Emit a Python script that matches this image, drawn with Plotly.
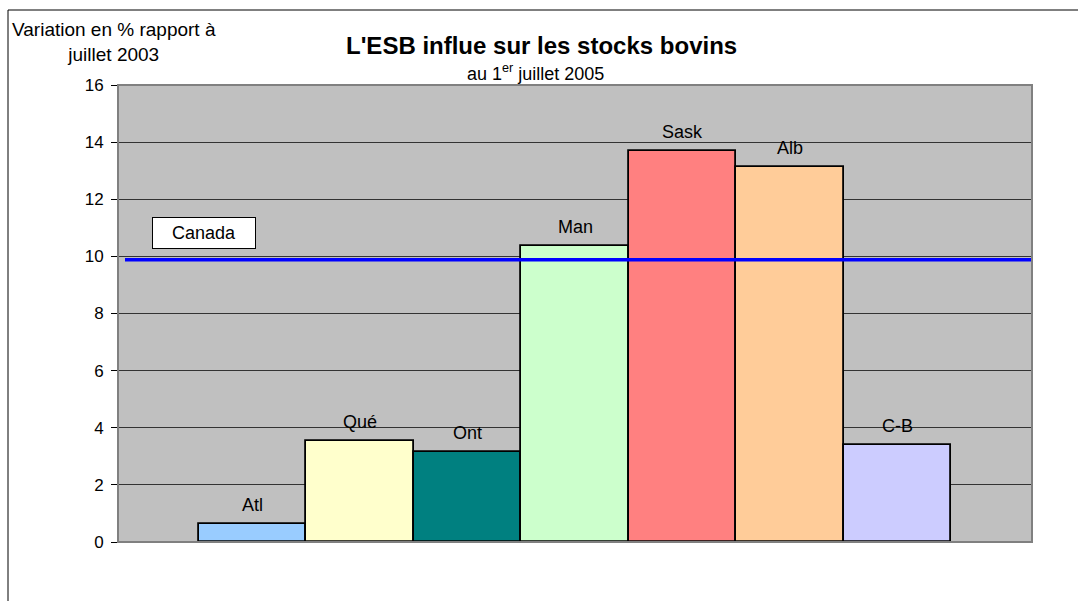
import plotly.graph_objects as go

provinces = ["Atl", "Qué", "Ont", "Man", "Sask", "Alb", "C-B"]
values = [0.62, 3.54, 3.15, 10.38, 13.68, 13.12, 3.40]
colors = ["#99CCFF", "#FFFFCC", "#008080", "#CCFFCC", "#FF8080", "#FFCC99", "#CCCCFF"]
canada_value = 9.88
y_ticks = [0, 2, 4, 6, 8, 10, 12, 14, 16]

FONT = "Arial, Liberation Sans, sans-serif"
W, H = 1078, 601
L, R, T, B = 118, 46, 85, 59
pw, ph = W - L - R, H - T - B

def px(x):
    return (x - L) / pw

def py(y):
    return (H - B - y) / ph

xs = list(range(len(provinces)))

fig = go.Figure()
fig.add_trace(go.Bar(
    x=xs, y=values, width=1.0,
    marker=dict(color=colors, line=dict(color="black", width=1.8)),
    hoverinfo="skip", showlegend=False,
))
fig.add_trace(go.Scatter(
    x=[-1.185, 7.25], y=[canada_value, canada_value], mode="lines",
    line=dict(color="#0000FF", width=3.5), showlegend=False, hoverinfo="skip",
))

annotations = []
for i, (p, v) in enumerate(zip(provinces, values)):
    annotations.append(dict(x=i, y=v, text=p, showarrow=False, xanchor="center",
                            yanchor="middle", yshift=19,
                            font=dict(family=FONT, size=18, color="black")))

annotations.append(dict(x=-0.45, y=10.82, text="Canada", showarrow=False,
                        xanchor="center", yanchor="middle",
                        bgcolor="white", bordercolor="black", borderwidth=1,
                        width=100, height=28, font=dict(family=FONT, size=18, color="black")))

annotations.append(dict(xref="paper", yref="paper", x=px(541), y=py(46),
                        xanchor="center", yanchor="middle",
                        text="<b>L'ESB influe sur les stocks bovins</b>", showarrow=False,
                        font=dict(family=FONT, size=24, color="black")))
annotations.append(dict(xref="paper", yref="paper", x=px(535), y=py(72),
                        xanchor="center", yanchor="middle",
                        text="au 1<sup>er</sup> juillet 2005", showarrow=False,
                        font=dict(family=FONT, size=18, color="black")))
annotations.append(dict(xref="paper", yref="paper", x=px(114), y=py(41.5),
                        xanchor="center", yanchor="middle",
                        text="Variation en % rapport à<br>juillet 2003", showarrow=False,
                        align="center",
                        font=dict(family=FONT, size=19, color="black")))

shapes = [
    dict(type="rect", xref="paper", yref="paper", x0=0, x1=1, y0=0, y1=1,
         line=dict(color="#808080", width=2), layer="above"),
    dict(type="rect", xref="paper", yref="paper", x0=px(8), x1=px(1085), y0=py(615), y1=py(10),
         line=dict(color="black", width=1)),
]

fig.update_layout(
    width=W, height=H,
    margin=dict(l=L, r=R, t=T, b=B),
    paper_bgcolor="white", plot_bgcolor="#C0C0C0",
    bargap=0,
    xaxis=dict(range=[-1.25, 7.25], showticklabels=False, showgrid=False, zeroline=False,
               showline=False, ticks=""),
    yaxis=dict(range=[0, 16], tickvals=y_ticks, showgrid=True, gridcolor="#333333", gridwidth=1,
               zeroline=False, showline=True, linecolor="black", linewidth=1,
               ticks="outside", ticklen=6, tickcolor="black", ticklabelstandoff=4,
               tickfont=dict(family=FONT, size=17, color="black")),
    annotations=annotations,
    shapes=shapes,
)

fig.write_html("out.html", config={"displayModeBar": False},
               post_script="document.body.style.margin='0';document.body.style.overflow='hidden';")
